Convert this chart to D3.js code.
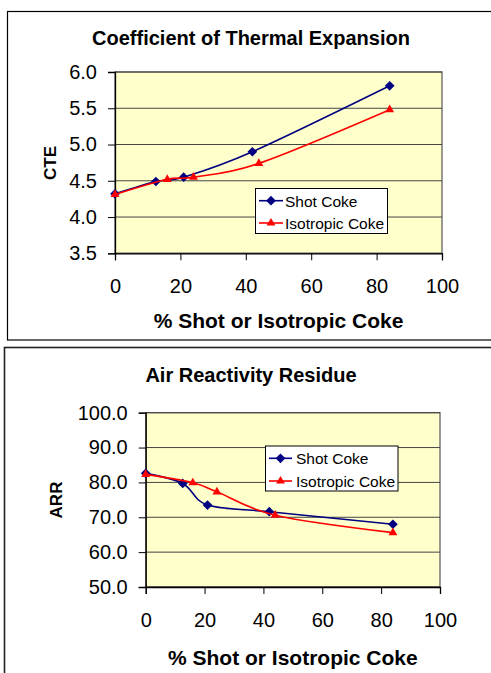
<!DOCTYPE html>
<html>
<head>
<meta charset="utf-8">
<script src="https://cdn.jsdelivr.net/npm/d3@7"></script>
<style>
  html, body { margin: 0; padding: 0; background: #fff; }
  svg { display: block; font-family: "Liberation Sans", Arial, sans-serif; }
</style>
</head>
<body>
<svg id="chart" width="491" height="673"></svg>
<script>
// ---- Data ----
const seriesNames = ["Shot Coke", "Isotropic Coke"];
const xTicks = [0, 20, 40, 60, 80, 100];

// Chart 1: Coefficient of Thermal Expansion
const cteShotX = [0, 12.5, 21, 42, 84];
const cteShotY = [4.32, 4.49, 4.55, 4.90, 5.81];
const cteIsoX = [0, 16, 24, 44, 84];
const cteIsoY = [4.31, 4.52, 4.55, 4.74, 5.48];
const cteTicks = [3.5, 4.0, 4.5, 5.0, 5.5, 6.0];

// Chart 2: Air Reactivity Residue
const arrShotX = [0, 12.6, 21, 42, 84];
const arrShotY = [82.6, 79.7, 73.5, 71.6, 68.0];
const arrIsoX = [0, 16, 24.2, 44, 84];
const arrIsoY = [82.3, 79.9, 77.3, 70.6, 65.6];
const arrTicks = [50, 60, 70, 80, 90, 100];

const colors = ["#000080", "#FF0000"];

const svg = d3.select("#chart");

function drawChart(cfg) {
  const g = svg.append("g");
  // outer frame
  g.append("rect")
    .attr("x", cfg.frame[0]).attr("y", cfg.frame[1])
    .attr("width", cfg.frame[2]).attr("height", cfg.frame[3])
    .attr("fill", "#fff").attr("stroke", cfg.frameColor).attr("stroke-width", cfg.frameWidth);

  const x = d3.scaleLinear().domain([0, 100]).range([cfg.plot.x0, cfg.plot.x1]);
  const y = d3.scaleLinear().domain([cfg.yTicks[0], cfg.yTicks[cfg.yTicks.length - 1]]).range([cfg.plot.y1, cfg.plot.y0]);

  // plot area
  g.append("rect")
    .attr("x", cfg.plot.x0).attr("y", cfg.plot.y0)
    .attr("width", cfg.plot.x1 - cfg.plot.x0).attr("height", cfg.plot.y1 - cfg.plot.y0)
    .attr("fill", "#FFFFCC").attr("stroke", "#555").attr("stroke-width", 1.2);

  // gridlines
  g.append("g").selectAll("line").data(cfg.yTicks).join("line")
    .attr("x1", cfg.plot.x0).attr("x2", cfg.plot.x1)
    .attr("y1", d => y(d)).attr("y2", d => y(d))
    .attr("stroke", "#444").attr("stroke-width", 1);

  // axes
  const yAxis = d3.axisLeft(y).tickValues(cfg.yTicks).tickFormat(d3.format(".1f"))
    .tickSize(7).tickPadding(11);
  const ya = g.append("g").attr("transform", `translate(${cfg.plot.x0},0)`).call(yAxis);
  ya.select(".domain").attr("stroke", "#000").attr("stroke-width", 1.3);
  ya.selectAll(".tick line").attr("stroke", "#000");
  ya.selectAll("text").attr("font-size", 20).attr("fill", "#000")
    .attr("font-family", "'Liberation Sans', Arial, sans-serif");

  const xAxis = d3.axisBottom(x).tickValues(xTicks).tickFormat(d3.format("d"))
    .tickSize(7).tickPadding(18.8);
  const xa = g.append("g").attr("transform", `translate(0,${cfg.plot.y1})`).call(xAxis);
  xa.select(".domain").attr("stroke", "#000").attr("stroke-width", 1.3);
  xa.selectAll(".tick line").attr("stroke", "#000");
  xa.selectAll("text").attr("font-size", 20).attr("fill", "#000")
    .attr("font-family", "'Liberation Sans', Arial, sans-serif");

  // title
  g.append("text").attr("x", cfg.title.x).attr("y", cfg.title.y)
    .attr("text-anchor", "middle").attr("font-size", 20).attr("font-weight", "bold")
    .text(cfg.title.text);

  // y label
  g.append("text")
    .attr("transform", `translate(${cfg.ylab.x},${cfg.ylab.y}) rotate(-90)`)
    .attr("text-anchor", "middle").attr("dy", "0.36em")
    .attr("font-size", 17).attr("font-weight", "bold")
    .text(cfg.ylab.text);

  // x label
  g.append("text").attr("x", (cfg.plot.x0 + cfg.plot.x1) / 2).attr("y", cfg.xlab.y)
    .attr("text-anchor", "middle").attr("font-size", 21).attr("font-weight", "bold")
    .text("% Shot or Isotropic Coke");

  const line = d3.line().x(d => x(d[0])).y(d => y(d[1])).curve(d3.curveCardinal.tension(0));

  const diamond = d3.symbol().type(d3.symbolDiamond2).size(60);
  const triangle = d3.symbol().type(d3.symbolTriangle).size(34);
  const markers = [diamond, triangle];

  cfg.series.forEach((s, i) => {
    const pts = s.x.map((v, j) => [v, s.y[j]]);
    g.append("path").attr("d", line(pts)).attr("fill", "none")
      .attr("stroke", colors[i]).attr("stroke-width", 1.6);
    g.append("g").selectAll("path").data(pts).join("path")
      .attr("transform", d => `translate(${x(d[0])},${y(d[1])})`)
      .attr("d", markers[i]()).attr("fill", colors[i]);
  });

  // legend
  const L = cfg.legend;
  g.append("rect").attr("x", L.x).attr("y", L.y).attr("width", L.w).attr("height", L.h)
    .attr("fill", "#fff").attr("stroke", "#000").attr("stroke-width", 1);
  seriesNames.forEach((name, i) => {
    const ly = L.lineY[i];
    g.append("line").attr("x1", L.lx0).attr("x2", L.lx1).attr("y1", ly).attr("y2", ly)
      .attr("stroke", colors[i]).attr("stroke-width", 1.6);
    g.append("path").attr("transform", `translate(${(L.lx0 + L.lx1) / 2},${ly})`)
      .attr("d", markers[i]()).attr("fill", colors[i]);
    g.append("text").attr("x", L.tx).attr("y", L.textY[i])
      .attr("font-size", 15.5).attr("fill", "#000").text(name);
  });
}

drawChart({
  frame: [7.5, 11.5, 495, 328.5], frameColor: "#000", frameWidth: 1.2,
  plot: { x0: 115, x1: 442, y0: 72, y1: 253.3 },
  yTicks: cteTicks,
  title: { x: 251, y: 44.5, text: "Coefficient of Thermal Expansion" },
  ylab: { x: 50, y: 163, text: "CTE" },
  xlab: { y: 328 },
  series: [{ x: cteShotX, y: cteShotY }, { x: cteIsoX, y: cteIsoY }],
  legend: { x: 255.5, y: 188.5, w: 132, h: 45, lx0: 259, lx1: 283, tx: 285,
            lineY: [200.7, 223], textY: [206.5, 228.8] }
});

drawChart({
  frame: [4.5, 347.5, 495, 340], frameColor: "#222", frameWidth: 1.6,
  plot: { x0: 145.7, x1: 440, y0: 412.7, y1: 587 },
  yTicks: arrTicks,
  title: { x: 251, y: 381.5, text: "Air Reactivity Residue" },
  ylab: { x: 55.5, y: 500, text: "ARR" },
  xlab: { y: 665 },
  series: [{ x: arrShotX, y: arrShotY }, { x: arrIsoX, y: arrIsoY }],
  legend: { x: 265.5, y: 446, w: 132.5, h: 45, lx0: 269, lx1: 292, tx: 296,
            lineY: [458.3, 481], textY: [464, 486.7] }
});
</script>
</body>
</html>
